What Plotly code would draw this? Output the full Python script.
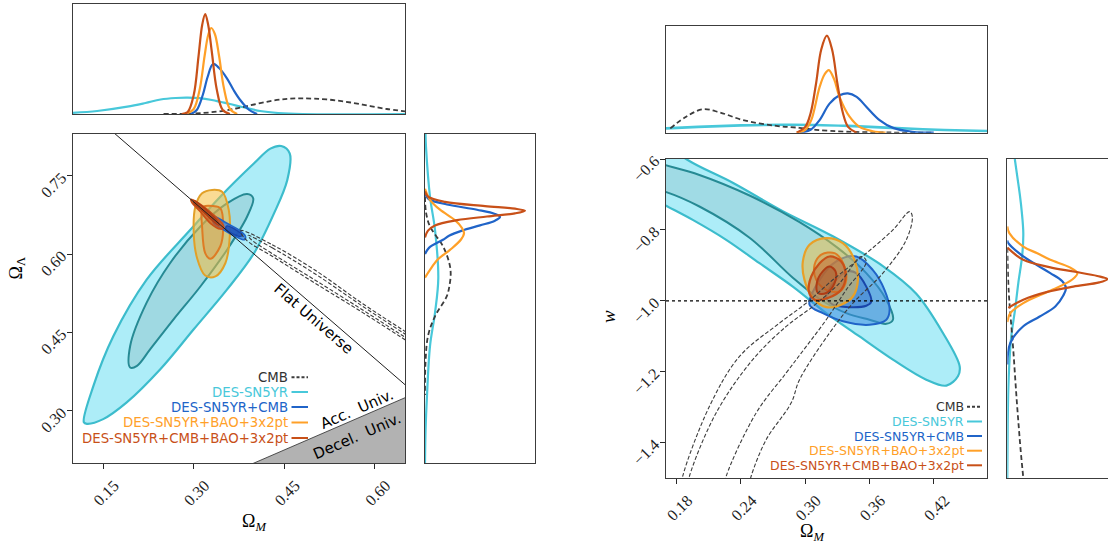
import plotly.graph_objects as go

W, H = 1108, 546

# ---------------- Left panel: Omega_M vs Omega_Lambda ----------------
# DES-SN5YR (cyan) 95% and 68%
L_SN95_om = [0.118, 0.134, 0.167, 0.222, 0.294, 0.344, 0.400, 0.427, 0.445, 0.459, 0.455, 0.433, 0.400, 0.355, 0.300, 0.245, 0.189, 0.150, 0.123]
L_SN95_ol = [0.278, 0.348, 0.443, 0.551, 0.646, 0.710, 0.774, 0.802, 0.807, 0.793, 0.742, 0.678, 0.602, 0.532, 0.456, 0.380, 0.316, 0.284, 0.275]
L_SN68_om = [0.1947, 0.1947, 0.222, 0.261, 0.311, 0.355, 0.3885, 0.3985, 0.3885, 0.355, 0.311, 0.2666, 0.228, 0.206]
L_SN68_ol = [0.383, 0.424, 0.507, 0.583, 0.653, 0.697, 0.715, 0.707, 0.672, 0.608, 0.538, 0.475, 0.418, 0.386]
# DES-SN5YR+CMB (blue)
L_SC95_om = [0.333, 0.355, 0.3746, 0.3857, 0.384, 0.369, 0.3497, 0.333]
L_SC95_ol = [0.672, 0.659, 0.6465, 0.634, 0.6275, 0.634, 0.6465, 0.659]
L_SC68_om = [0.355, 0.380, 0.378, 0.353]
L_SC68_ol = [0.654, 0.637, 0.634, 0.648]
# DES-SN5YR+BAO+3x2pt (orange)
L_SB95_om = [0.3304, 0.347, 0.358, 0.3597, 0.3525, 0.336, 0.319, 0.3055, 0.300, 0.3027, 0.3138]
L_SB95_ol = [0.723, 0.7195, 0.685, 0.634, 0.583, 0.5575, 0.559, 0.5925, 0.640, 0.691, 0.7165]
L_SB68_om = [0.3165, 0.332, 0.344, 0.3487, 0.344, 0.3276, 0.319, 0.3138, 0.313]
L_SB68_ol = [0.691, 0.692, 0.688, 0.6465, 0.615, 0.591, 0.602, 0.653, 0.680]
# DES-SN5YR+CMB+BAO+3x2pt (dark orange)
L_ALL95_om = [0.2955, 0.3165, 0.333, 0.347, 0.3497, 0.344, 0.3276, 0.311, 0.297]
L_ALL95_ol = [0.705, 0.691, 0.675, 0.659, 0.650, 0.648, 0.659, 0.681, 0.6985]
L_ALL68_om = [0.300, 0.320, 0.340, 0.342, 0.335, 0.315, 0.300]
L_ALL68_ol = [0.703, 0.686, 0.662, 0.655, 0.660, 0.682, 0.698]
# CMB (dashed)
L_CMB95_om = [0.378, 0.43, 0.50, 0.58, 0.65, 0.70, 0.70, 0.65, 0.58, 0.50, 0.43, 0.386]
L_CMB95_ol = [0.645, 0.618, 0.570, 0.505, 0.452, 0.414, 0.398, 0.436, 0.488, 0.545, 0.596, 0.628]
L_CMB68_om = [0.390, 0.43, 0.50, 0.58, 0.65, 0.70, 0.70, 0.65, 0.58, 0.50, 0.43, 0.395]
L_CMB68_ol = [0.636, 0.612, 0.563, 0.500, 0.447, 0.410, 0.405, 0.441, 0.493, 0.551, 0.601, 0.628]
# reference lines
FLAT_om = [0.05, 0.70]
ACC_om = [0.05, 0.70]

# left top marginal (Omega_M)
LT_SN_x = [0.10, 0.14, 0.19, 0.22, 0.245, 0.27, 0.29, 0.31, 0.33, 0.345, 0.36, 0.38, 0.41, 0.44, 0.48, 0.65]
LT_SN_y = [0.012, 0.03, 0.073, 0.11, 0.145, 0.16, 0.163, 0.158, 0.14, 0.12, 0.10, 0.07, 0.03, 0.01, 0.0, 0.0]
LT_SC_x = [0.295, 0.305, 0.315, 0.323, 0.332, 0.342, 0.355, 0.366, 0.377, 0.392, 0.405]
LT_SC_y = [0.0, 0.04, 0.19, 0.37, 0.50, 0.46, 0.357, 0.24, 0.14, 0.04, 0.0]
LT_SB_x = [0.290, 0.300, 0.310, 0.318, 0.324, 0.329, 0.335, 0.342, 0.350, 0.360, 0.372]
LT_SB_y = [0.01, 0.05, 0.25, 0.58, 0.79, 0.86, 0.80, 0.58, 0.26, 0.05, 0.0]
LT_ALL_x = [0.280, 0.290, 0.300, 0.308, 0.314, 0.319, 0.324, 0.330, 0.338, 0.348, 0.360]
LT_ALL_y = [0.0, 0.02, 0.19, 0.58, 0.89, 1.00, 0.89, 0.62, 0.25, 0.04, 0.0]
LT_CMB_x = [0.25, 0.30, 0.34, 0.37, 0.40, 0.43, 0.455, 0.477, 0.50, 0.53, 0.56, 0.59, 0.62, 0.65]
LT_CMB_y = [0.0, 0.004, 0.025, 0.055, 0.095, 0.133, 0.152, 0.157, 0.153, 0.14, 0.115, 0.082, 0.05, 0.027]

# left right marginal (Omega_Lambda)
LR_SN_ol = [0.83, 0.805, 0.71, 0.6465, 0.554, 0.4877, 0.424, 0.329, 0.265, 0.20]
LR_SN_p = [0.005, 0.01, 0.05, 0.10, 0.133, 0.10, 0.05, 0.02, 0.006, 0.0]
LR_SC_ol = [0.715, 0.705, 0.695, 0.685, 0.677, 0.671, 0.664, 0.655, 0.645, 0.635, 0.6275, 0.612, 0.60]
LR_SC_p = [0.0, 0.04, 0.22, 0.52, 0.70, 0.75, 0.70, 0.55, 0.37, 0.24, 0.18, 0.04, 0.0]
LR_SB_ol = [0.725, 0.704, 0.685, 0.665, 0.650, 0.640, 0.628, 0.608, 0.59, 0.57, 0.555]
LR_SB_p = [0.0, 0.05, 0.15, 0.30, 0.37, 0.39, 0.36, 0.25, 0.13, 0.05, 0.0]
LR_ALL_ol = [0.72, 0.71, 0.70, 0.692, 0.687, 0.683, 0.678, 0.672, 0.665, 0.655, 0.645, 0.632]
LR_ALL_p = [0.0, 0.03, 0.20, 0.60, 0.90, 1.0, 0.90, 0.62, 0.32, 0.10, 0.03, 0.0]
LR_CMB_ol = [0.71, 0.68, 0.653, 0.615, 0.585, 0.564, 0.54, 0.519, 0.481, 0.443, 0.392, 0.33]
LR_CMB_p = [0.0, 0.01, 0.05, 0.18, 0.24, 0.257, 0.245, 0.217, 0.10, 0.03, 0.005, 0.0]

# ---------------- Right panel: Omega_M vs w ----------------
R_SN95_om = [0.155, 0.1888, 0.2323, 0.279, 0.3258, 0.3725, 0.4037, 0.4286, 0.4442, 0.4426, 0.4318, 0.413, 0.3819, 0.3507, 0.3196, 0.2884, 0.2573, 0.2262, 0.195, 0.169, 0.155]
R_SN95_w = [-0.52, -0.60, -0.667, -0.747, -0.818, -0.902, -0.980, -1.091, -1.185, -1.213, -1.2394, -1.2225, -1.166, -1.1006, -1.0347, -0.96, -0.894, -0.828, -0.7718, -0.73, -0.707]
R_SN68_om = [0.155, 0.169, 0.2012, 0.248, 0.2947, 0.330, 0.357, 0.3757, 0.3819, 0.3757, 0.360, 0.3383, 0.3134, 0.2884, 0.248, 0.2012, 0.169, 0.155]
R_SN68_w = [-0.605, -0.617, -0.645, -0.703, -0.778, -0.850, -0.922, -0.997, -1.0535, -1.065, -1.0535, -1.035, -0.995, -0.935, -0.822, -0.734, -0.692, -0.682]
R_SC95_om = [0.3477, 0.363, 0.374, 0.3788, 0.3757, 0.360, 0.3352, 0.3165, 0.304, 0.3134, 0.329]
R_SC95_w = [-0.875, -0.9127, -0.969, -1.0254, -1.0535, -1.0676, -1.058, -1.035, -1.011, -0.941, -0.889]
R_SC68_om = [0.3477, 0.357, 0.3617, 0.357, 0.3414, 0.3258, 0.3196, 0.329, 0.3398]
R_SC68_w = [-0.922, -0.96, -1.002, -1.014, -1.018, -1.011, -0.99, -0.941, -0.917]
R_SB95_om = [0.3196, 0.3351, 0.346, 0.3492, 0.3445, 0.3336, 0.3196, 0.3071, 0.2993, 0.2978, 0.304]
R_SB95_w = [-0.8234, -0.8375, -0.8845, -0.941, -0.988, -1.011, -1.018, -0.992, -0.941, -0.889, -0.842]
R_SB68_om = [0.315, 0.3274, 0.3367, 0.3377, 0.332, 0.3196, 0.3103, 0.3087]
R_SB68_w = [-0.870, -0.8657, -0.9034, -0.950, -0.9738, -0.969, -0.941, -0.8986]
R_ALL95_om = [0.3227, 0.3336, 0.3377, 0.3336, 0.3211, 0.3087, 0.3034, 0.3056, 0.3134]
R_ALL95_w = [-0.875, -0.889, -0.9315, -0.969, -0.9924, -0.997, -0.9738, -0.9315, -0.894]
R_ALL68_om = [0.3227, 0.3283, 0.3274, 0.3196, 0.312, 0.3108, 0.3164]
R_ALL68_w = [-0.9034, -0.917, -0.950, -0.978, -0.978, -0.950, -0.917]
R_CMB95_om = [0.184, 0.1856, 0.2106, 0.2386, 0.276, 0.301, 0.3258, 0.357, 0.3819, 0.3975, 0.400, 0.3944, 0.3725, 0.3445, 0.3227, 0.2947, 0.2869, 0.2636, 0.2495, 0.247]
R_CMB95_w = [-1.53, -1.495, -1.2977, -1.157, -1.063, -1.0066, -0.9408, -0.866, -0.80, -0.7484, -0.7625, -0.828, -0.922, -1.0066, -1.091, -1.2225, -1.288, -1.3915, -1.495, -1.53]
R_CMB68_om = [0.190, 0.1919, 0.2168, 0.251, 0.2822, 0.3071, 0.332, 0.3523, 0.357, 0.3383, 0.3196, 0.301, 0.2822, 0.2542, 0.2262, 0.224]
R_CMB68_w = [-1.53, -1.495, -1.3163, -1.166, -1.0724, -1.016, -0.9502, -0.875, -0.889, -0.969, -1.0535, -1.1287, -1.2036, -1.3163, -1.495, -1.53]

# right top marginal (Omega_M)
RT_SN_x = [0.17, 0.20, 0.24, 0.28, 0.31, 0.34, 0.37, 0.40, 0.43, 0.47]
RT_SN_y = [0.045, 0.06, 0.075, 0.082, 0.08, 0.07, 0.055, 0.04, 0.028, 0.018]
RT_SC_x = [0.295, 0.305, 0.3134, 0.3227, 0.332, 0.3398, 0.348, 0.357, 0.3694, 0.382, 0.40, 0.42]
RT_SC_y = [0.0, 0.03, 0.13, 0.30, 0.385, 0.406, 0.37, 0.268, 0.13, 0.05, 0.01, 0.0]
RT_SB_x = [0.292, 0.300, 0.3056, 0.3134, 0.318, 0.322, 0.327, 0.332, 0.3414, 0.3507, 0.363, 0.375]
RT_SB_y = [0.0, 0.03, 0.13, 0.47, 0.60, 0.646, 0.55, 0.37, 0.165, 0.06, 0.015, 0.0]
RT_ALL_x = [0.292, 0.300, 0.305, 0.310, 0.315, 0.3202, 0.325, 0.330, 0.335, 0.340, 0.348]
RT_ALL_y = [0.0, 0.06, 0.20, 0.50, 0.86, 1.0, 0.86, 0.51, 0.21, 0.06, 0.0]
RT_CMB_x = [0.174, 0.1888, 0.2043, 0.22, 0.2417, 0.2729, 0.2947, 0.31, 0.338, 0.38, 0.42]
RT_CMB_y = [0.045, 0.165, 0.241, 0.21, 0.131, 0.07, 0.05, 0.03, 0.01, 0.002, 0.0]

# right right marginal (w)
RR_SN_w = [-0.6, -0.65, -0.70, -0.75, -0.809, -0.87, -0.95, -1.02, -1.1, -1.18, -1.25, -1.35, -1.5]
RR_SN_p = [0.075, 0.10, 0.125, 0.145, 0.16, 0.15, 0.11, 0.08, 0.04, 0.02, 0.01, 0.004, 0.0]
RR_SC_w = [-0.83, -0.8375, -0.875, -0.90, -0.922, -0.945, -0.964, -0.985, -1.016, -1.045, -1.072, -1.119, -1.18]
RR_SC_p = [0.0, 0.01, 0.16, 0.30, 0.43, 0.55, 0.587, 0.56, 0.48, 0.32, 0.16, 0.03, 0.0]
RR_SB_w = [-0.79, -0.809, -0.847, -0.866, -0.8845, -0.905, -0.922, -0.94, -0.969, -1.0065, -1.035, -1.06]
RR_SB_p = [0.0, 0.02, 0.16, 0.30, 0.43, 0.62, 0.70, 0.65, 0.45, 0.16, 0.03, 0.0]
RR_ALL_w = [-0.85, -0.8845, -0.905, -0.9175, -0.93, -0.939, -0.948, -0.96, -0.975, -0.997, -1.02]
RR_ALL_p = [0.0, 0.16, 0.42, 0.66, 0.90, 1.0, 0.92, 0.66, 0.40, 0.16, 0.01]
RR_CMB_w = [-0.85, -0.95, -1.0, -1.07, -1.14, -1.21, -1.28, -1.35, -1.42, -1.5]
RR_CMB_p = [0.0, 0.01, 0.02, 0.04, 0.06, 0.077, 0.094, 0.113, 0.133, 0.16]

# ticks
L_XTICKS = [0.15, 0.30, 0.45, 0.60]
L_YTICKS = [0.30, 0.45, 0.60, 0.75]
R_XTICKS = [0.18, 0.24, 0.30, 0.36, 0.42]
R_YTICKS = [-1.4, -1.2, -1.0, -0.8, -0.6]

LEGEND_LABELS = ["CMB", "DES-SN5YR", "DES-SN5YR+CMB", "DES-SN5YR+BAO+3x2pt", "DES-SN5YR+CMB+BAO+3x2pt"]

# ---------------- styles ----------------
CYAN = "rgb(72,200,218)"
CYAN_LINE = "rgb(60,188,204)"
CYAN_IN_LINE = "rgb(38,138,148)"
BLUE = "rgb(32,100,200)"
ORANGE = "rgb(255,160,40)"
ORANGE_IN = "rgb(222,124,36)"
DORANGE = "rgb(200,80,24)"
DORANGE_IN = "rgb(175,60,20)"
GREY = "rgb(60,60,60)"
LEG_COLORS = ["rgb(50,50,50)", CYAN, BLUE, ORANGE, DORANGE]

fig = go.Figure()


def closed(a):
    return list(a) + [a[0]]


def contour(xs, ys, ax, fill, line, width=2.0, dash=None, close=True):
    fig.add_trace(go.Scatter(
        x=closed(xs) if close else list(xs), y=closed(ys) if close else list(ys),
        xaxis=ax[0], yaxis=ax[1], mode="lines",
        fill="toself" if fill else "none", fillcolor=fill,
        line=dict(color=line, width=width, shape="spline", smoothing=1.0, dash=dash),
        hoverinfo="skip", showlegend=False))


def curve(xs, ys, ax, color, width=2.2, dash=None):
    fig.add_trace(go.Scatter(
        x=xs, y=ys, xaxis=ax[0], yaxis=ax[1], mode="lines",
        line=dict(color=color, width=width, shape="spline", smoothing=1.0, dash=dash),
        hoverinfo="skip", showlegend=False))


LM = ("x", "y")
LT = ("x2", "y2")
LR = ("x3", "y3")
RM = ("x4", "y4")
RT = ("x5", "y5")
RR = ("x6", "y6")

# ---- left main ----
acc_ol = [om / 2 for om in ACC_om]
fig.add_trace(go.Scatter(x=[ACC_om[0], ACC_om[1], ACC_om[1], ACC_om[0], ACC_om[0]],
                         y=[acc_ol[0], acc_ol[1], 0.0, 0.0, acc_ol[0]],
                         xaxis="x", yaxis="y", mode="lines", fill="toself",
                         fillcolor="rgb(178,178,178)", line=dict(color="rgb(40,40,40)", width=0.8),
                         hoverinfo="skip", showlegend=False))
contour(L_SN95_om, L_SN95_ol, LM, "rgba(150,232,246,0.78)", CYAN_LINE, 2.2)
contour(L_SN68_om, L_SN68_ol, LM, "rgba(140,190,196,0.42)", CYAN_IN_LINE, 2.0)
contour(L_SB95_om, L_SB95_ol, LM, "rgba(246,190,60,0.55)", "rgb(226,160,40)", 2.0)
contour(L_SB68_om, L_SB68_ol, LM, "rgba(215,150,60,0.35)", ORANGE_IN, 2.0)
contour(L_SC95_om, L_SC95_ol, LM, "rgba(50,120,215,0.75)", BLUE, 1.6)
contour(L_SC68_om, L_SC68_ol, LM, "rgba(30,80,180,0.8)", "rgb(25,70,170)", 1.4)
contour(L_ALL95_om, L_ALL95_ol, LM, "rgba(205,90,30,0.75)", DORANGE, 1.6)
contour(L_ALL68_om, L_ALL68_ol, LM, "rgba(170,60,20,0.7)", DORANGE_IN, 1.2)
fig.add_trace(go.Scatter(x=FLAT_om, y=[1 - om for om in FLAT_om], xaxis="x", yaxis="y",
                         mode="lines", line=dict(color="rgb(30,30,30)", width=1.0),
                         hoverinfo="skip", showlegend=False))
contour(L_CMB95_om, L_CMB95_ol, LM, None, GREY, 1.1, dash="4px,2px")
contour(L_CMB68_om, L_CMB68_ol, LM, None, GREY, 1.1, dash="4px,2px")

# ---- left top marginal ----
curve(LT_SN_x, LT_SN_y, LT, CYAN)
curve(LT_CMB_x, LT_CMB_y, LT, GREY, 1.8, "5px,3px")
curve(LT_SC_x, LT_SC_y, LT, BLUE)
curve(LT_SB_x, LT_SB_y, LT, ORANGE)
curve(LT_ALL_x, LT_ALL_y, LT, DORANGE)

# ---- left right marginal ----
curve(LR_SN_p, LR_SN_ol, LR, CYAN)
curve(LR_CMB_p, LR_CMB_ol, LR, GREY, 1.8, "5px,3px")
curve(LR_SC_p, LR_SC_ol, LR, BLUE)
curve(LR_SB_p, LR_SB_ol, LR, ORANGE)
curve(LR_ALL_p, LR_ALL_ol, LR, DORANGE)

# ---- right main ----
contour(R_SN95_om, R_SN95_w, RM, "rgba(150,232,246,0.78)", CYAN_LINE, 2.2)
contour(R_SN68_om, R_SN68_w, RM, "rgba(140,190,196,0.38)", CYAN_IN_LINE, 2.0)
contour(R_SC95_om, R_SC95_w, RM, "rgba(60,140,225,0.55)", BLUE, 2.0)
contour(R_SC68_om, R_SC68_w, RM, "rgba(40,100,200,0.35)", "rgb(25,70,170)", 2.0)
contour(R_SB95_om, R_SB95_w, RM, "rgba(246,190,60,0.5)", "rgb(232,160,40)", 2.2)
contour(R_SB68_om, R_SB68_w, RM, "rgba(215,140,60,0.35)", ORANGE_IN, 2.0)
contour(R_ALL95_om, R_ALL95_w, RM, "rgba(190,90,40,0.4)", DORANGE, 2.2)
contour(R_ALL68_om, R_ALL68_w, RM, "rgba(160,70,30,0.35)", DORANGE_IN, 2.0)
contour(R_CMB95_om, R_CMB95_w, RM, None, GREY, 1.1, dash="4px,2px", close=False)
contour(R_CMB68_om, R_CMB68_w, RM, None, GREY, 1.1, dash="4px,2px", close=False)

# ---- right top marginal ----
curve(RT_SN_x, RT_SN_y, RT, CYAN, 2.6)
curve(RT_CMB_x, RT_CMB_y, RT, GREY, 1.8, "5px,3px")
curve(RT_SC_x, RT_SC_y, RT, BLUE)
curve(RT_SB_x, RT_SB_y, RT, ORANGE)
curve(RT_ALL_x, RT_ALL_y, RT, DORANGE)

# ---- right right marginal ----
curve(RR_SN_p, RR_SN_w, RR, CYAN)
curve(RR_CMB_p, RR_CMB_w, RR, GREY, 1.8, "5px,3px")
curve(RR_SC_p, RR_SC_w, RR, BLUE)
curve(RR_SB_p, RR_SB_w, RR, ORANGE)
curve(RR_ALL_p, RR_ALL_w, RR, DORANGE)


def px(x):
    return x / W


def py(y):
    return 1 - y / H


AXLINE = dict(showline=True, linecolor="rgb(60,60,60)", linewidth=1.2, showgrid=False, zeroline=False,
              automargin=False)
TICKFONT = dict(family="Liberation Serif, DejaVu Serif, serif", size=16, color="rgb(30,30,30)")
NOTICK = dict(showticklabels=False, ticks="")

LM_XD = [px(73), px(405)]
LM_YD = [py(463), py(134)]
RM_XD = [px(666), px(987.3)]
RM_YD = [py(478), py(159)]


def fmt(v):
    return ("%.2f" % v) if v >= 0 else ("\u2212%.1f" % abs(v))


XT = dict(ticks="outside", ticklen=5, tickcolor="rgb(40,40,40)", tickangle=-45, tickfont=TICKFONT,
          ticklabelshift=11, ticklabelstandoff=1)
YT = dict(ticks="outside", ticklen=5, tickcolor="rgb(40,40,40)", tickangle=-45, tickfont=TICKFONT,
          ticklabelstandoff=2)

fig.update_layout(
    template="none",
    width=W, height=H, margin=dict(l=0, r=0, t=0, b=0, pad=0, autoexpand=False),
    paper_bgcolor="white", plot_bgcolor="white", showlegend=False,
    xaxis=dict(domain=LM_XD, range=[0.1, 0.65], anchor="y", mirror=True,
               tickvals=L_XTICKS, ticktext=[fmt(v) for v in L_XTICKS], **XT, **AXLINE),
    yaxis=dict(domain=LM_YD, range=[0.2, 0.83], anchor="x", mirror=True,
               tickvals=L_YTICKS, ticktext=[fmt(v) for v in L_YTICKS], **YT, **AXLINE),
    xaxis2=dict(domain=LM_XD, range=[0.1, 0.65], anchor="y2", mirror=True, **NOTICK, **AXLINE),
    yaxis2=dict(domain=[py(114), py(4)], range=[0, 1.1], anchor="x2", mirror=True, **NOTICK, **AXLINE),
    xaxis3=dict(domain=[px(425), px(535)], range=[0, 1.1], anchor="y3", mirror=True, **NOTICK, **AXLINE),
    yaxis3=dict(domain=LM_YD, range=[0.2, 0.83], anchor="x3", mirror=True, **NOTICK, **AXLINE),
    xaxis4=dict(domain=RM_XD, range=[0.17, 0.47], anchor="y4", mirror=True,
                tickvals=R_XTICKS, ticktext=[fmt(v) for v in R_XTICKS], **XT, **AXLINE),
    yaxis4=dict(domain=RM_YD, range=[-1.5, -0.6], anchor="x4", mirror=True,
                tickvals=R_YTICKS, ticktext=[fmt(v) for v in R_YTICKS], **YT, **AXLINE),
    xaxis5=dict(domain=RM_XD, range=[0.17, 0.47], anchor="y5", mirror=True, **NOTICK, **AXLINE),
    yaxis5=dict(domain=[py(132.7), py(26)], range=[0, 1.1], anchor="x5", mirror=True, **NOTICK, **AXLINE),
    xaxis6=dict(domain=[px(1007.3), 1.0], range=[0, 1.007], anchor="y6", mirror=True, **NOTICK, **AXLINE),
    yaxis6=dict(domain=RM_YD, range=[-1.5, -0.6], anchor="x6", mirror=False, **NOTICK, **AXLINE),
)

# w = -1 reference
fig.add_shape(type="line", xref="x4 domain", yref="y4", x0=0, x1=1, y0=-1, y1=-1,
              line=dict(color="black", width=1.2, dash="dot"))

ann = []
SANS = "DejaVu Sans, sans-serif"
SERIF = "Liberation Serif, DejaVu Serif, serif"
ann.append(dict(x=0.499, y=0.475, xref="x", yref="y", text="Flat Universe", textangle=40.8,
                showarrow=False, font=dict(family=SANS, size=15, color="black")))
ann.append(dict(x=0.5713, y=0.3034, xref="x", yref="y", text="Acc.  Univ.", textangle=-23.5,
                showarrow=False, font=dict(family=SANS, size=15, color="black")))
ann.append(dict(x=0.571, y=0.2525, xref="x", yref="y", text="Decel.  Univ.", textangle=-23.5,
                showarrow=False, font=dict(family=SANS, size=15, color="black")))
# axis titles
ann.append(dict(x=px(240), y=py(536), xref="paper", yref="paper", text="\u03a9<sub><i>M</i></sub>",
                showarrow=False, font=dict(family=SERIF, size=18, color="black")))
ann.append(dict(x=px(826.7), y=py(546), xref="paper", yref="paper", text="\u03a9<sub><i>M</i></sub>",
                showarrow=False, font=dict(family=SERIF, size=18, color="black")))
ann.append(dict(x=px(3), y=py(268), xref="paper", yref="paper", text="\u03a9<sub>\u039b</sub>", textangle=-90,
                showarrow=False, font=dict(family=SERIF, size=18, color="black")))
ann.append(dict(x=px(608), y=py(317), xref="paper", yref="paper", text="<i>w</i>", textangle=-90,
                showarrow=False, font=dict(family=SERIF, size=19, color="black")))

L_LEG_Y = [377.3, 392.0, 407.0, 422.5, 438.0]
R_LEG_Y = [406.7, 421.5, 436.0, 450.7, 465.3]
for i, lab in enumerate(LEGEND_LABELS):
    ann.append(dict(x=px(289.5), y=py(L_LEG_Y[i]), xref="paper", yref="paper", text=lab,
                    xanchor="right", yanchor="middle", showarrow=False,
                    font=dict(family=SANS, size=13.3, color=LEG_COLORS[i])))
    ann.append(dict(x=px(965.5), y=py(R_LEG_Y[i]), xref="paper", yref="paper", text=lab,
                    xanchor="right", yanchor="middle", showarrow=False,
                    font=dict(family=SANS, size=12.5, color=LEG_COLORS[i])))
    dash = "3px,2px" if i == 0 else "solid"
    col = GREY if i == 0 else LEG_COLORS[i]
    fig.add_shape(type="line", xref="paper", yref="paper", x0=px(291.5), x1=px(308),
                  y0=py(L_LEG_Y[i]), y1=py(L_LEG_Y[i]), line=dict(color=col, width=2.0, dash=dash))
    fig.add_shape(type="line", xref="paper", yref="paper", x0=px(967), x1=px(982),
                  y0=py(R_LEG_Y[i]), y1=py(R_LEG_Y[i]), line=dict(color=col, width=2.0, dash=dash))

fig.update_layout(annotations=ann)
fig.write_html("out.html", config={"displayModeBar": False},
               post_script="document.body.style.margin='0px';document.body.style.overflow='hidden';")
